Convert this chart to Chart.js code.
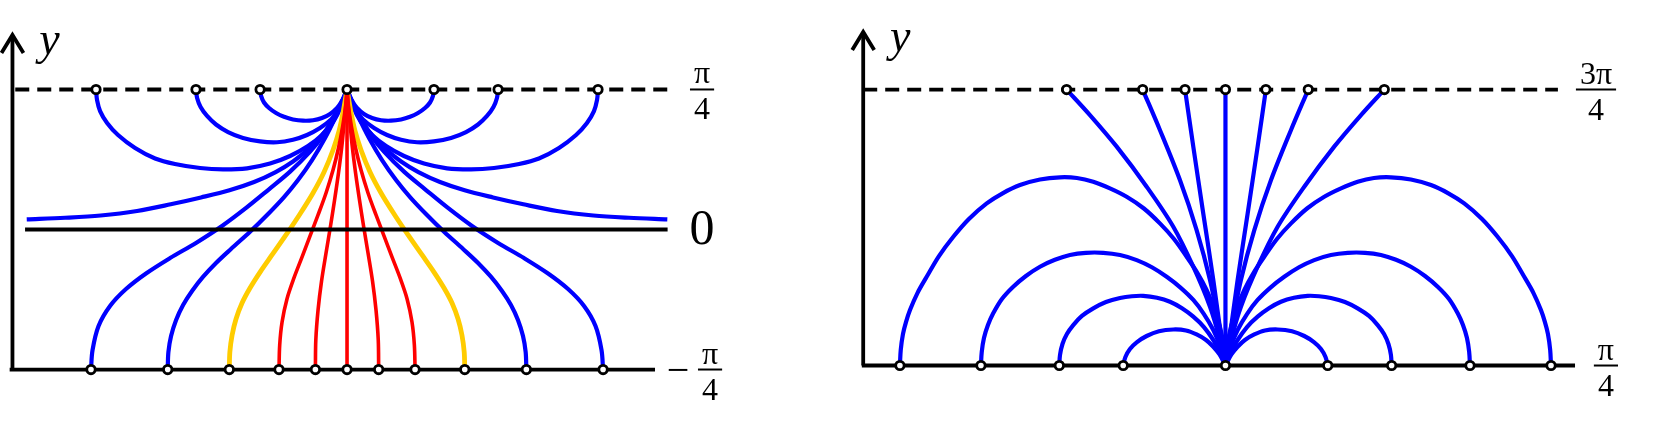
<!DOCTYPE html>
<html>
<head>
<meta charset="utf-8">
<script src="https://cdn.jsdelivr.net/npm/chart.js@4.4.1/dist/chart.umd.min.js"></script>
<style>
  html, body { margin: 0; padding: 0; background: #fff; }
  #wrap { position: relative; width: 1665px; height: 445px; }
  #chartLeft { position: absolute; left: 0; top: 0; }
  #chartRight { position: absolute; left: 800px; top: 0; }
</style>
</head>
<body>
<div id="wrap">
  <canvas id="chartLeft" width="760" height="445"></canvas>
  <canvas id="chartRight" width="865" height="445"></canvas>
</div>
<script>
// ===================== Left panel (y in units of pi/4) =====================
const leftTopDots = [-1.793, -1.079, -0.621, 0, 0.621, 1.079, 1.793];
const leftBottomDots = [-1.829, -1.281, -0.841, -0.486, -0.226, 0, 0.226, 0.486, 0.841, 1.281, 1.829];
const leftTicks = [1, 0, -1];
const leftTickLabels = ['π/4', '0', '−π/4'];

// arcs from the dashed line back to the pole
const arc1L = [[-1.793,1],[-1.786,0.925],[-1.764,0.846],[-1.714,0.761],[-1.636,0.675],[-1.514,0.582],[-1.371,0.507],[-1.229,0.468],[-1.05,0.439],[-0.886,0.429],[-0.714,0.437],[-0.55,0.471],[-0.407,0.525],[-0.279,0.596],[-0.179,0.675],[-0.1,0.768],[-0.043,0.875],[0,1]];
const arc1R = [[1.793,1],[1.786,0.925],[1.764,0.846],[1.714,0.761],[1.636,0.675],[1.514,0.582],[1.371,0.507],[1.229,0.468],[1.05,0.439],[0.886,0.429],[0.714,0.437],[0.55,0.471],[0.407,0.525],[0.279,0.596],[0.179,0.675],[0.1,0.768],[0.043,0.875],[0,1]];
const arc2L = [[-1.079,1],[-1.071,0.939],[-1.046,0.875],[-1.0,0.811],[-0.936,0.75],[-0.85,0.696],[-0.743,0.654],[-0.621,0.629],[-0.5,0.623],[-0.386,0.641],[-0.286,0.675],[-0.193,0.725],[-0.114,0.786],[-0.054,0.861],[-0.018,0.932],[0,1]];
const arc2R = [[1.079,1],[1.071,0.939],[1.046,0.875],[1.0,0.811],[0.936,0.75],[0.85,0.696],[0.743,0.654],[0.621,0.629],[0.5,0.623],[0.386,0.641],[0.286,0.675],[0.193,0.725],[0.114,0.786],[0.054,0.861],[0.018,0.932],[0,1]];
const arc3L = [[-0.621,1],[-0.614,0.954],[-0.593,0.907],[-0.557,0.868],[-0.507,0.832],[-0.45,0.805],[-0.386,0.786],[-0.314,0.777],[-0.243,0.78],[-0.179,0.796],[-0.121,0.825],[-0.071,0.868],[-0.036,0.918],[-0.011,0.961],[0,1]];
const arc3R = [[0.621,1],[0.614,0.954],[0.593,0.907],[0.557,0.868],[0.507,0.832],[0.45,0.805],[0.386,0.786],[0.314,0.777],[0.243,0.78],[0.179,0.796],[0.121,0.825],[0.071,0.868],[0.036,0.918],[0.011,0.961],[0,1]];

// the two near-horizontal lines ending just above y = 0
const flatL = [[-2.288,0.073],[-2.014,0.084],[-1.76,0.1],[-1.5,0.132],[-1.26,0.18],[-1.043,0.229],[-0.84,0.28],[-0.664,0.339],[-0.51,0.41],[-0.386,0.486],[-0.28,0.57],[-0.193,0.657],[-0.12,0.75],[-0.04,0.89],[0,1]];
const flatR = [[2.288,0.073],[2.014,0.084],[1.76,0.1],[1.5,0.132],[1.26,0.18],[1.043,0.229],[0.84,0.28],[0.664,0.339],[0.51,0.41],[0.386,0.486],[0.28,0.57],[0.193,0.657],[0.12,0.75],[0.04,0.89],[0,1]];

// lines down to the bottom edge
const low1L = [[-1.829,-1],[-1.818,-0.861],[-1.775,-0.689],[-1.693,-0.546],[-1.579,-0.425],[-1.436,-0.314],[-1.264,-0.204],[-1.079,-0.096],[-0.893,0.025],[-0.721,0.154],[-0.564,0.282],[-0.407,0.413],[-0.264,0.556],[-0.169,0.675],[-0.098,0.794],[-0.038,0.913],[0,1]];
const low1R = [[1.829,-1],[1.818,-0.861],[1.775,-0.689],[1.693,-0.546],[1.579,-0.425],[1.436,-0.314],[1.264,-0.204],[1.079,-0.096],[0.893,0.025],[0.721,0.154],[0.564,0.282],[0.407,0.413],[0.264,0.556],[0.169,0.675],[0.098,0.794],[0.038,0.913],[0,1]];
const low2L = [[-1.281,-1],[-1.276,-0.875],[-1.257,-0.761],[-1.221,-0.646],[-1.171,-0.539],[-1.107,-0.439],[-1.029,-0.339],[-0.936,-0.239],[-0.829,-0.139],[-0.693,-0.016],[-0.564,0.111],[-0.45,0.232],[-0.35,0.354],[-0.25,0.496],[-0.157,0.654],[-0.086,0.796],[-0.036,0.911],[0,1]];
const low2R = [[1.281,-1],[1.276,-0.875],[1.257,-0.761],[1.221,-0.646],[1.171,-0.539],[1.107,-0.439],[1.029,-0.339],[0.936,-0.239],[0.829,-0.139],[0.693,-0.016],[0.564,0.111],[0.45,0.232],[0.35,0.354],[0.25,0.496],[0.157,0.654],[0.086,0.796],[0.036,0.911],[0,1]];
const goldL = [[-0.841,-1],[-0.837,-0.875],[-0.821,-0.754],[-0.793,-0.639],[-0.75,-0.525],[-0.693,-0.418],[-0.621,-0.304],[-0.536,-0.182],[-0.436,-0.039],[-0.336,0.111],[-0.243,0.261],[-0.164,0.411],[-0.1,0.568],[-0.057,0.704],[-0.025,0.854],[0,1]];
const goldR = [[0.841,-1],[0.837,-0.875],[0.821,-0.754],[0.793,-0.639],[0.75,-0.525],[0.693,-0.418],[0.621,-0.304],[0.536,-0.182],[0.436,-0.039],[0.336,0.111],[0.243,0.261],[0.164,0.411],[0.1,0.568],[0.057,0.704],[0.025,0.854],[0,1]];
const red1L = [[-0.486,-1],[-0.481,-0.825],[-0.464,-0.661],[-0.429,-0.496],[-0.379,-0.346],[-0.321,-0.196],[-0.264,-0.046],[-0.207,0.104],[-0.15,0.261],[-0.1,0.425],[-0.061,0.582],[-0.032,0.732],[-0.012,0.868],[0,1]];
const red1R = [[0.486,-1],[0.481,-0.825],[0.464,-0.661],[0.429,-0.496],[0.379,-0.346],[0.321,-0.196],[0.264,-0.046],[0.207,0.104],[0.15,0.261],[0.1,0.425],[0.061,0.582],[0.032,0.732],[0.012,0.868],[0,1]];
const red2L = [[-0.226,-1],[-0.223,-0.789],[-0.207,-0.575],[-0.182,-0.368],[-0.15,-0.168],[-0.118,0.025],[-0.089,0.211],[-0.061,0.404],[-0.037,0.596],[-0.019,0.782],[-0.007,0.904],[0,1]];
const red2R = [[0.226,-1],[0.223,-0.789],[0.207,-0.575],[0.182,-0.368],[0.15,-0.168],[0.118,0.025],[0.089,0.211],[0.061,0.404],[0.037,0.596],[0.019,0.782],[0.007,0.904],[0,1]];
const redMid = [[0,-1],[0,1]];

// ===================== Right panel (y in units of pi/4) =====================
const rightTopDots = [-1.151, -0.6, -0.293, 0, 0.293, 0.6, 1.151];
const rightBottomDots = [-2.359, -1.772, -1.204, -0.741, 0, 0.741, 1.204, 1.772, 2.359];
const rightTicks = [3, 1];
const rightTickLabels = ['3π/4', 'π/4'];

const archAL = [[-2.359,1],[-2.353,1.112],[-2.337,1.228],[-2.315,1.315],[-2.286,1.402],[-2.232,1.525],[-2.165,1.643],[-2.076,1.793],[-1.972,1.933],[-1.859,2.062],[-1.73,2.175],[-1.612,2.25],[-1.489,2.308],[-1.344,2.348],[-1.199,2.364],[-1.076,2.359],[-0.958,2.332],[-0.837,2.284],[-0.716,2.223],[-0.591,2.138],[-0.475,2.03],[-0.373,1.917],[-0.281,1.788],[-0.203,1.67],[-0.136,1.547],[-0.083,1.417],[-0.04,1.281],[-0.014,1.149],[0,1]];
const archAR = [[2.359,1],[2.353,1.112],[2.337,1.228],[2.315,1.315],[2.286,1.402],[2.232,1.525],[2.165,1.643],[2.076,1.793],[1.972,1.933],[1.859,2.062],[1.73,2.175],[1.612,2.25],[1.489,2.308],[1.344,2.348],[1.199,2.364],[1.076,2.359],[0.958,2.332],[0.837,2.284],[0.716,2.223],[0.591,2.138],[0.475,2.03],[0.373,1.917],[0.281,1.788],[0.203,1.67],[0.136,1.547],[0.083,1.417],[0.04,1.281],[0.014,1.149],[0,1]];
const archBL = [[-1.772,1],[-1.766,1.098],[-1.75,1.199],[-1.721,1.293],[-1.683,1.378],[-1.62,1.482],[-1.538,1.571],[-1.446,1.649],[-1.344,1.716],[-1.236,1.766],[-1.127,1.801],[-1.011,1.817],[-0.886,1.817],[-0.764,1.801],[-0.643,1.764],[-0.533,1.712],[-0.426,1.643],[-0.326,1.565],[-0.233,1.475],[-0.156,1.373],[-0.088,1.257],[-0.04,1.141],[0,1]];
const archBR = [[1.772,1],[1.766,1.098],[1.75,1.199],[1.721,1.293],[1.683,1.378],[1.62,1.482],[1.538,1.571],[1.446,1.649],[1.344,1.716],[1.236,1.766],[1.127,1.801],[1.011,1.817],[0.886,1.817],[0.764,1.801],[0.643,1.764],[0.533,1.712],[0.426,1.643],[0.326,1.565],[0.233,1.475],[0.156,1.373],[0.088,1.257],[0.04,1.141],[0,1]];
const archCL = [[-1.204,1],[-1.199,1.076],[-1.181,1.156],[-1.149,1.228],[-1.103,1.293],[-1.04,1.359],[-0.958,1.414],[-0.866,1.46],[-0.764,1.489],[-0.678,1.502],[-0.596,1.505],[-0.496,1.491],[-0.402,1.462],[-0.315,1.415],[-0.233,1.354],[-0.156,1.279],[-0.088,1.185],[-0.04,1.098],[0,1]];
const archCR = [[1.204,1],[1.199,1.076],[1.181,1.156],[1.149,1.228],[1.103,1.293],[1.04,1.359],[0.958,1.414],[0.866,1.46],[0.764,1.489],[0.678,1.502],[0.596,1.505],[0.496,1.491],[0.402,1.462],[0.315,1.415],[0.233,1.354],[0.156,1.279],[0.088,1.185],[0.04,1.098],[0,1]];
const archDL = [[-0.741,1],[-0.725,1.062],[-0.692,1.12],[-0.641,1.17],[-0.571,1.214],[-0.482,1.248],[-0.378,1.261],[-0.286,1.254],[-0.209,1.225],[-0.141,1.185],[-0.088,1.136],[-0.043,1.08],[0,1]];
const archDR = [[0.741,1],[0.725,1.062],[0.692,1.12],[0.641,1.17],[0.571,1.214],[0.482,1.248],[0.378,1.261],[0.286,1.254],[0.209,1.225],[0.141,1.185],[0.088,1.136],[0.043,1.08],[0,1]];

const ray1L = [[-1.151,3],[-0.982,2.815],[-0.788,2.586],[-0.571,2.296],[-0.378,2.006],[-0.233,1.716],[-0.112,1.426],[-0.04,1.185],[0,1]];
const ray1R = [[1.151,3],[0.982,2.815],[0.788,2.586],[0.571,2.296],[0.378,2.006],[0.233,1.716],[0.112,1.426],[0.04,1.185],[0,1]];
const ray2L = [[-0.6,3],[-0.475,2.707],[-0.33,2.344],[-0.209,1.982],[-0.112,1.62],[-0.04,1.257],[0,1]];
const ray2R = [[0.6,3],[0.475,2.707],[0.33,2.344],[0.209,1.982],[0.112,1.62],[0.04,1.257],[0,1]];
const ray3L = [[-0.293,3],[-0.233,2.586],[-0.161,2.103],[-0.088,1.62],[-0.028,1.185],[0,1]];
const ray3R = [[0.293,3],[0.233,2.586],[0.161,2.103],[0.088,1.62],[0.028,1.185],[0,1]];
const rayMid = [[0,3],[0,1]];

// ===================== Styles =====================
const BLUE = '#0000ff';
const RED = '#ff0000';
const GOLD = '#ffcc00';
const SERIF = '"Liberation Serif", "DejaVu Serif", serif';
const AXIS_W = 3.8;
const BLUE_W = 4.2;

const pts = arr => arr.map(p => ({ x: p[0], y: p[1] }));

function curve(arr, color, width, order) {
  return {
    data: pts(arr), borderColor: color, borderWidth: width,
    pointRadius: 0, tension: 0.33, fill: false, order: order
  };
}

function straight(arr, color, width, order, dash) {
  return {
    data: pts(arr), borderColor: color, borderWidth: width,
    borderDash: dash || [], pointRadius: 0, tension: 0, fill: false, order: order
  };
}

function dots(xs, yVal) {
  return {
    data: xs.map(x => ({ x: x, y: yVal })), showLine: false,
    pointRadius: 4.2, pointBorderWidth: 2.8,
    pointBackgroundColor: '#fff', pointBorderColor: '#000', order: 0
  };
}

// ===================== Arrow, axis name and tick labels =====================
const decor = {
  id: 'decor',
  afterDraw(chart, args, opts) {
    const { ctx } = chart;
    const xs = chart.scales.x, ys = chart.scales.y;
    ctx.save();
    const ax = xs.getPixelForValue(opts.axisX);
    const ay = ys.getPixelForValue(opts.axisTop);
    ctx.strokeStyle = '#000';
    ctx.lineWidth = 3.8;
    ctx.lineJoin = 'miter';
    ctx.beginPath();
    ctx.moveTo(ax - 11, ay + 18);
    ctx.lineTo(ax, ay);
    ctx.lineTo(ax + 11, ay + 18);
    ctx.stroke();

    ctx.fillStyle = '#000';
    ctx.textAlign = 'center';
    ctx.textBaseline = 'alphabetic';
    ctx.font = 'italic 46px ' + SERIF;
    ctx.fillText('y', ax + 37, ay + 19);

    opts.ticks.forEach((v, i) => {
      let label = opts.labels[i];
      const cx = xs.getPixelForValue(opts.labelX[i]);
      const cy = ys.getPixelForValue(v);
      if (label.indexOf('/') < 0) {
        ctx.font = '50px ' + SERIF;
        ctx.textBaseline = 'middle';
        ctx.fillText(label, cx, cy + 1);
        ctx.textBaseline = 'alphabetic';
        return;
      }
      let fx = cx;
      if (label[0] === '−') {
        ctx.font = '40px ' + SERIF;
        ctx.fillText('−', cx - 24, cy + 13);
        label = label.slice(1);
        fx = cx + 8;
      }
      ctx.font = '32px ' + SERIF;
      const parts = label.split('/');
      const w = Math.max(ctx.measureText(parts[0]).width, ctx.measureText(parts[1]).width) + 8;
      ctx.fillText(parts[0], fx, cy - 6);
      ctx.fillText(parts[1], fx, cy + 30);
      ctx.lineWidth = 2;
      ctx.beginPath();
      ctx.moveTo(fx - w / 2, cy);
      ctx.lineTo(fx + w / 2, cy);
      ctx.stroke();
    });
    ctx.restore();
  }
};

function makeChart(id, datasets, xr, yr, decorOpts) {
  return new Chart(document.getElementById(id), {
    type: 'line',
    data: { datasets: datasets },
    options: {
      responsive: false,
      animation: false,
      events: [],
      layout: { padding: 0, autoPadding: false },
      scales: {
        x: { type: 'linear', min: xr[0], max: xr[1], display: false },
        y: { type: 'linear', min: yr[0], max: yr[1], display: false }
      },
      plugins: { legend: { display: false }, tooltip: { enabled: false }, decor: decorOpts }
    },
    plugins: [decor]
  });
}

// ===================== Left chart =====================
makeChart('chartLeft', [
  dots(leftTopDots, 1),
  dots(leftBottomDots, -1),
  straight([[-2.39, -1], [-2.39, 1.37]], '#000', AXIS_W, 1),
  straight([[-2.41, -1], [2.20, -1]], '#000', AXIS_W, 1),
  straight([[-2.30, 0], [2.29, 0]], '#000', AXIS_W, 1),
  straight([[-2.37, 1], [2.29, 1]], '#000', AXIS_W, 1, [14, 8]),
  straight(redMid, RED, 3.6, 2),
  curve(red1L, RED, 3.6, 2), curve(red1R, RED, 3.6, 2),
  curve(red2L, RED, 3.6, 2), curve(red2R, RED, 3.6, 2),
  curve(goldL, GOLD, 4.8, 3), curve(goldR, GOLD, 4.8, 3),
  curve(low1L, BLUE, BLUE_W, 4), curve(low1R, BLUE, BLUE_W, 4),
  curve(low2L, BLUE, BLUE_W, 4), curve(low2R, BLUE, BLUE_W, 4),
  curve(flatL, BLUE, BLUE_W, 4), curve(flatR, BLUE, BLUE_W, 4),
  curve(arc1L, BLUE, BLUE_W, 4), curve(arc1R, BLUE, BLUE_W, 4),
  curve(arc2L, BLUE, BLUE_W, 4), curve(arc2R, BLUE, BLUE_W, 4),
  curve(arc3L, BLUE, BLUE_W, 4), curve(arc3R, BLUE, BLUE_W, 4)
], [-2.479, 2.95], [-1.539, 1.639], {
  axisX: -2.39, axisTop: 1.389, ticks: leftTicks, labels: leftTickLabels,
  labelX: [2.536, 2.536, 2.536]
});

// ===================== Right chart =====================
makeChart('chartRight', [
  dots(rightTopDots, 3),
  dots(rightBottomDots, 1),
  straight([[-2.625, 1], [-2.625, 3.40]], '#000', AXIS_W, 1),
  straight([[-2.635, 1], [2.533, 1]], '#000', AXIS_W, 1),
  straight([[-2.625, 3], [2.409, 3]], '#000', AXIS_W, 1, [14, 8]),
  straight(rayMid, BLUE, BLUE_W, 4),
  curve(ray1L, BLUE, BLUE_W, 4), curve(ray1R, BLUE, BLUE_W, 4),
  curve(ray2L, BLUE, BLUE_W, 4), curve(ray2R, BLUE, BLUE_W, 4),
  curve(ray3L, BLUE, BLUE_W, 4), curve(ray3R, BLUE, BLUE_W, 4),
  curve(archAL, BLUE, BLUE_W, 4), curve(archAR, BLUE, BLUE_W, 4),
  curve(archBL, BLUE, BLUE_W, 4), curve(archBR, BLUE, BLUE_W, 4),
  curve(archCL, BLUE, BLUE_W, 4), curve(archCR, BLUE, BLUE_W, 4),
  curve(archDL, BLUE, BLUE_W, 4), curve(archDR, BLUE, BLUE_W, 4)
], [-3.083, 3.185], [0.424, 3.649], {
  axisX: -2.625, axisTop: 3.417, ticks: rightTicks, labels: rightTickLabels,
  labelX: [2.685, 2.757]
});
</script>
</body>
</html>
